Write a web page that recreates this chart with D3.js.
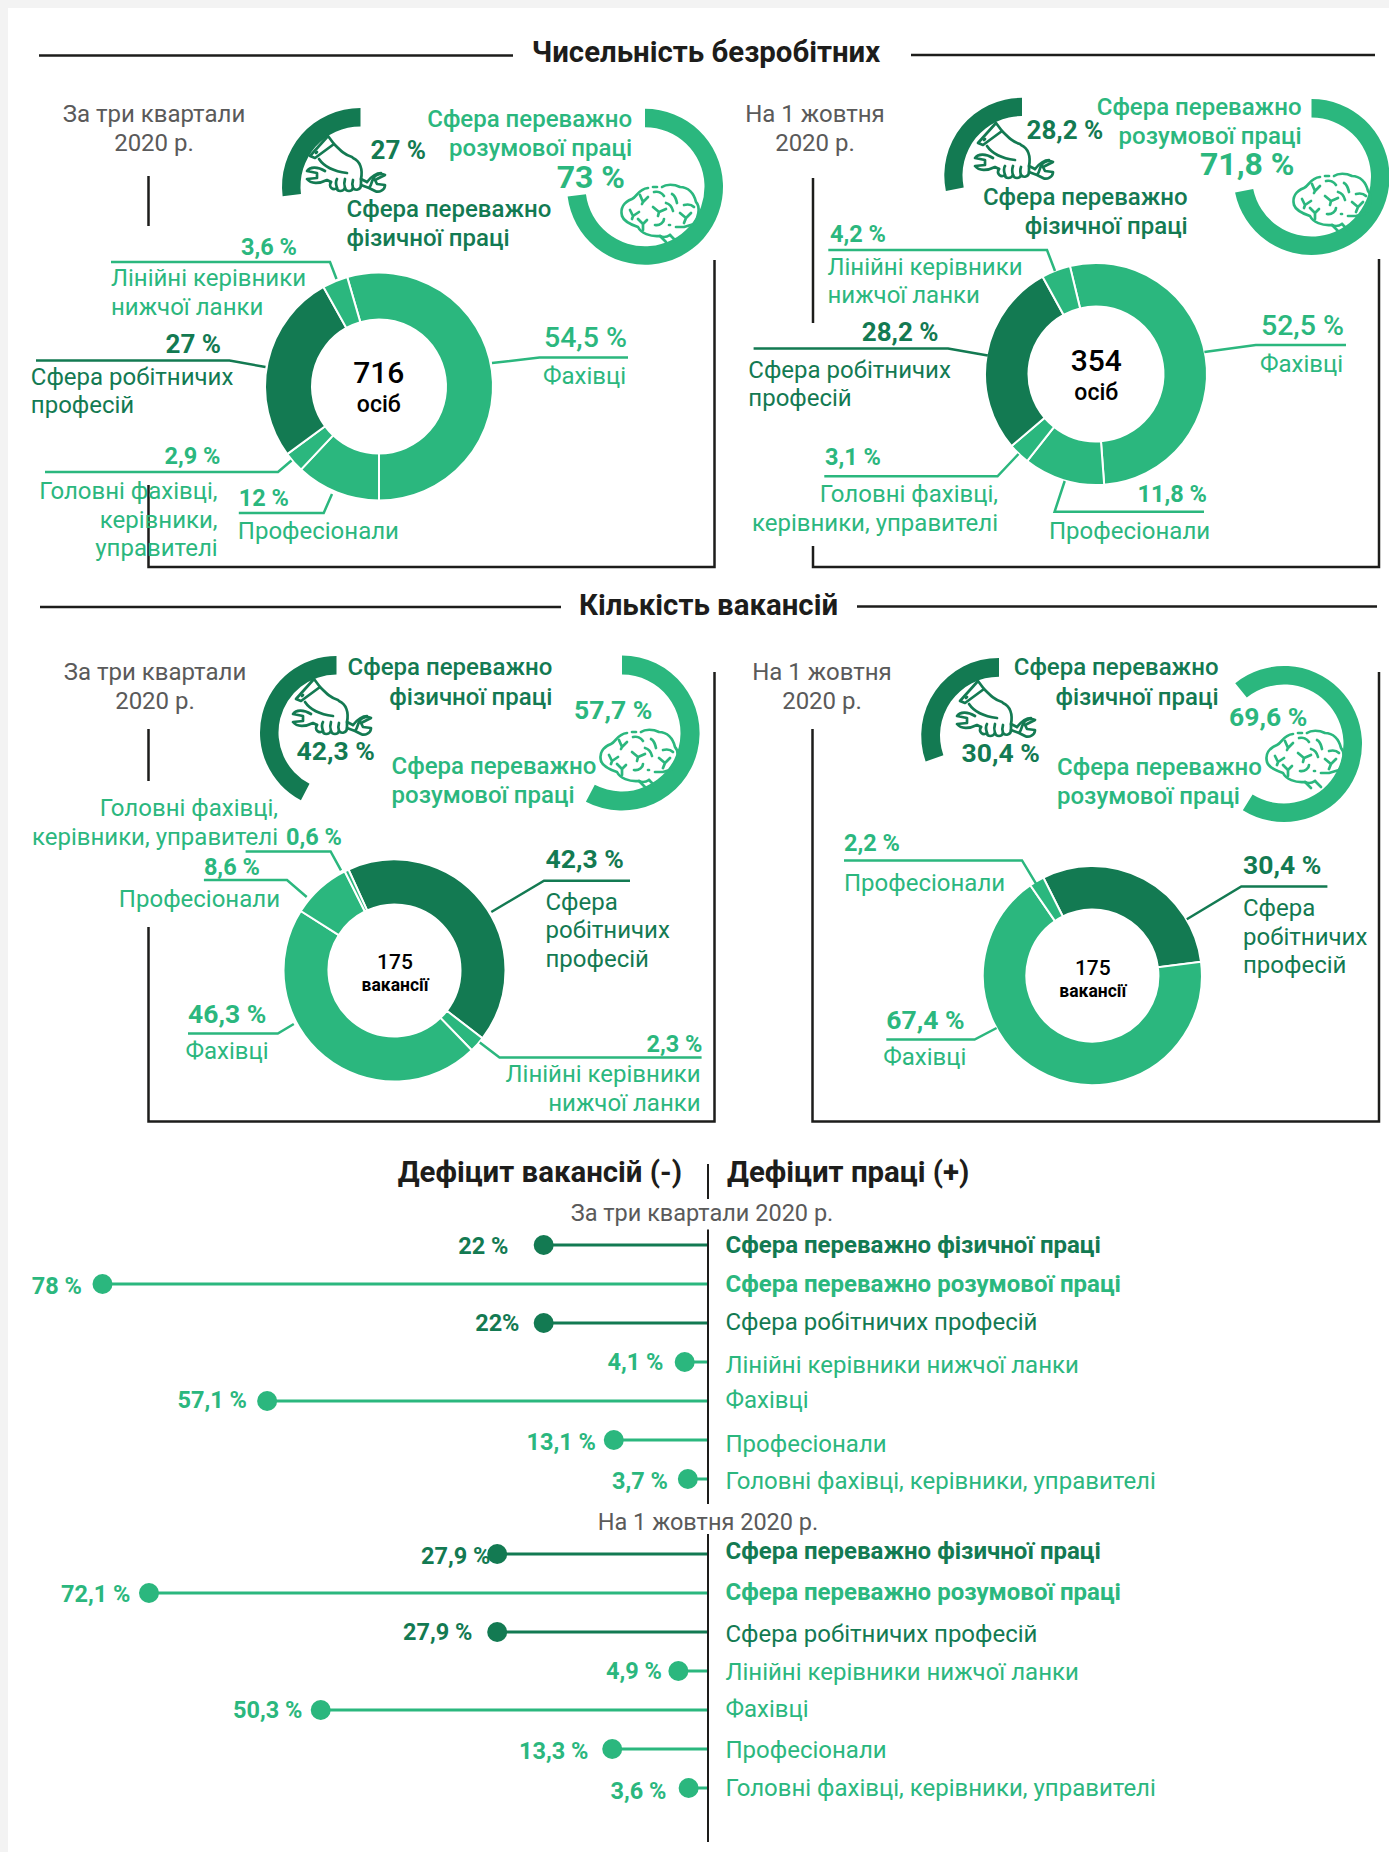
<!DOCTYPE html>
<html>
<head>
<meta charset="utf-8">
<script src="https://cdn.jsdelivr.net/npm/d3@7"></script>
<style>
html, body { margin: 0; padding: 0; background: #f3f3f3; }
svg { display: block; font-family: Roboto, sans-serif; }
</style>
</head>
<body>
<script>
// donut values, share in %
let unemployedQuartersCats = ["Фахівці", "Професіонали", "Головні", "Робітничі", "Лінійні"]
let unemployedQuartersVals = [54.5, 12, 2.9, 27, 3.6]
let unemployedOctCats = ["Фахівці", "Професіонали", "Головні", "Робітничі", "Лінійні"]
let unemployedOctVals = [52.5, 11.8, 3.1, 28.2, 4.2]
let vacanciesQuartersCats = ["Робітничі", "Лінійні", "Фахівці", "Професіонали", "Головні"]
let vacanciesQuartersVals = [42.3, 2.3, 46.3, 8.6, 0.6]
let vacanciesOctCats = ["Робітничі", "Фахівці", "Професіонали"]
let vacanciesOctVals = [30.4, 67.4, 2.2]

// physical / mental work shares
let physicalShares = [27, 28.2, 42.3, 30.4]
let mentalShares = [73, 71.8, 57.7, 69.6]

// deficit rows
let deficitCats = [
    "Сфера переважно фізичної праці",
    "Сфера переважно розумової праці",
    "Сфера робітничих професій",
    "Лінійні керівники нижчої ланки",
    "Фахівці",
    "Професіонали",
    "Головні фахівці, керівники, управителі"
]
let deficitQuartersVals = [22, 78, 22, 4.1, 57.1, 13.1, 3.7]
let deficitQuartersText = ["22 %", "78 %", "22%", "4,1 %", "57,1 %", "13,1 %", "3,7 %"]
let deficitOctVals = [27.9, 72.1, 27.9, 4.9, 50.3, 13.3, 3.6]
let deficitOctText = ["27,9 %", "72,1 %", "27,9 %", "4,9 %", "50,3 %", "13,3 %", "3,6 %"]

let width = 1389
let height = 1852
let light = "#2bb77e"
let dark = "#137a52"
let grey = "#5a5a5a"
let black = "#1d1d1b"

let svg = d3.select("body")
            .append("svg")
            .attr("width", width)
            .attr("height", height)

svg.append("rect")
    .attr("x", 8)
    .attr("y", 8)
    .attr("width", width - 8)
    .attr("height", height - 8)
    .attr("fill", "white")

let txt = (x, y, str, size, weight, color, anchor) => {
    svg.append("text")
        .attr("x", x)
        .attr("y", y)
        .attr("font-size", size)
        .attr("font-weight", weight)
        .attr("fill", color)
        .attr("text-anchor", anchor || "start")
        .text(str)
}

let lineGen = d3.line()

let rule = (points, color, w) => {
    svg.append("path")
        .attr("d", lineGen(points))
        .attr("fill", "none")
        .attr("stroke", color)
        .attr("stroke-width", w)
}

let darkCats = ["Робітничі"]

let drawDonut = (cx, cy, outer, inner, cats, vals, startDeg) => {
    let start = startDeg * Math.PI / 180
    let pie = d3.pie().sort(null).startAngle(start).endAngle(start + 2 * Math.PI)
    let arc = d3.arc().innerRadius(inner).outerRadius(outer)
    svg.append("g")
        .attr("transform", "translate(" + cx + "," + cy + ")")
        .selectAll("path")
        .data(pie(vals))
        .enter()
        .append("path")
        .attr("d", arc)
        .attr("fill", (d, i) => darkCats.includes(cats[i]) ? dark : light)
        .attr("stroke", "white")
        .attr("stroke-width", 2)
}

// share of a full circle as an angle, going either way round
let drawGauge = (cx, cy, outer, inner, share, startDeg, dir, color) => {
    let start = startDeg * Math.PI / 180
    let angle = d3.scaleLinear().domain([0, 100]).range([start, start + dir * 2 * Math.PI])
    let arc = d3.arc().innerRadius(inner).outerRadius(outer)
    svg.append("path")
        .attr("transform", "translate(" + cx + "," + cy + ")")
        .attr("d", arc({startAngle: angle(0), endAngle: angle(share)}))
        .attr("fill", color)
}

let handPaths = [
    "M15,31 L33,11 L39,19 L20,33 Z",
    "M39,19 C46,26 50,30 57,32",
    "M58,33 C65,36 68,44 66,54",
    "M24,34 C28,40 36,46 52,48",
    "M21,28 L22,27",
    "M30,46 C22,41 15,42 12,46 L22,48 L22,53 L12,54 C16,59 24,59 32,55 L36,57",
    "M36,57 C33,62 38,66 42,63 C42,67 48,67 50,63 C51,67 57,67 58,63 C60,66 66,65 66,60 L66,54 L72,57",
    "M42,54 C40,57 41,60 42,63 M50,54 C49,57 49,60 50,63 M58,55 C57,58 57,60 58,63",
    "M66,60 L74,63 C78,59 76,52 82,50 C86,48 90,50 90,50 L80,55 L82,59 L90,60 C90,65 84,68 80,66 L74,63",
    "M72,57 C76,52 80,48 86,48"
]

let brainPaths = [
    "M38,13 C28,14 27,22 22,24 C14,27 10,33 12,41 C14,47 22,50 28,52 C31,58 40,62 50,61 C54,63 57,62 60,60",
    "M43,12 L47,12",
    "M52,12 C56,9 64,9 70,12 C78,12 84,18 86,27 C91,32 88,44 84,49 L74,52 L66,52",
    "M50,61 L56,67 M60,60 L66,66",
    "M20,35 L23,41 L29,37 M23,41 L22,44",
    "M30,20 L33,27 L38,22 M33,27 L32,29",
    "M28,44 L33,49 L37,45 M33,49 L33,55",
    "M44,17 C48,16 52,18 54,21",
    "M43,32 L49,37 L56,34 M49,37 L48,41",
    "M45,50 C50,51 54,47 54,44",
    "M56,28 C60,29 62,32 63,36",
    "M62,19 C66,21 66,25 67,28",
    "M70,38 L76,43 L81,38 M76,43 L74,48",
    "M74,30 C78,29 82,30 84,32",
    "M59,50 L60,50"
]

let drawIcon = (paths, x, y, color) => {
    svg.append("g")
        .attr("transform", "translate(" + x + "," + y + ")")
        .selectAll("path")
        .data(paths)
        .enter()
        .append("path")
        .attr("d", d => d)
        .attr("fill", "none")
        .attr("stroke", color)
        .attr("stroke-width", 2.7)
        .attr("stroke-linecap", "round")
        .attr("stroke-linejoin", "round")
}

// section titles and frames
let titleSize = 29.4
txt(706, 62, "Чисельність безробітних", titleSize, 700, black, "middle")
rule([[39, 55.5], [513, 55.5]], black, 2.5)
rule([[911, 55], [1375, 55]], black, 2.5)
txt(708.5, 615, "Кількість вакансій", titleSize, 700, black, "middle")
rule([[40, 607], [561, 607]], black, 2.5)
rule([[857, 606.5], [1377, 606.5]], black, 2.5)

rule([[148.5, 176], [148.5, 226]], black, 2.5)
rule([[148.5, 485], [148.5, 567], [714.5, 567], [714.5, 260]], black, 2.5)
rule([[813, 178], [813, 323]], black, 2.5)
rule([[813, 546], [813, 567], [1379, 567], [1379, 259]], black, 2.5)
rule([[148.5, 729], [148.5, 781]], black, 2.5)
rule([[148.5, 927], [148.5, 1121.5], [714.5, 1121.5], [714.5, 672]], black, 2.5)
rule([[812.5, 729], [812.5, 1121.5], [1379, 1121.5], [1379, 672]], black, 2.5)

let sizeL = 24
let sizeV = 26
let sizeS = 23.5
let sizeB = 28.5
let sizeH = 24

// ----- unemployed, three quarters
txt(154, 122, "За три квартали", sizeH, 400, grey, "middle")
txt(154, 151, "2020 р.", sizeH, 400, grey, "middle")
drawGauge(360.5, 186.5, 78.5, 60, physicalShares[0], 0, -1, dark)
drawGauge(645, 186.8, 78, 59.5, mentalShares[0], 0, 1, light)
drawIcon(handPaths, 295, 125, dark)
drawIcon(brainPaths, 610, 175, light)
txt(370.5, 159, "27 %", sizeV, 700, dark)
txt(632, 127, "Сфера переважно", sizeL, 500, light, "end")
txt(632, 156, "розумової праці", sizeL, 500, light, "end")
txt(625, 188, "73 %", 32, 700, light, "end")
txt(346.5, 217, "Сфера переважно", sizeL, 500, dark)
txt(346.5, 246, "фізичної праці", sizeL, 500, dark)

drawDonut(379, 386.5, 114, 67, unemployedQuartersCats, unemployedQuartersVals, -16.2)
txt(378.8, 383, "716", 30, 500, "black", "middle")
txt(378.8, 412, "осіб", 23, 500, "black", "middle")
txt(297, 255, "3,6 %", sizeS, 700, light, "end")
rule([[111, 262], [330, 262], [336.5, 279]], light, 2.5)
txt(111, 286, "Лінійні керівники", sizeL, 400, light)
txt(111, 315, "нижчої ланки", sizeL, 400, light)
txt(627, 346.5, "54,5 %", sizeB, 500, light, "end")
rule([[492, 363], [539.5, 357.5], [628, 357.5]], light, 2.5)
txt(626, 384, "Фахівці", sizeL, 400, light, "end")
txt(221, 353, "27 %", sizeV, 700, dark, "end")
rule([[36, 360.5], [229.5, 360.5], [265.5, 367]], dark, 2.5)
txt(30.8, 384.5, "Сфера робітничих", sizeL, 400, dark)
txt(30.8, 413, "професій", sizeL, 400, dark)
txt(220.4, 463.5, "2,9 %", sizeS, 700, light, "end")
rule([[45, 472], [278, 472], [291.5, 460.5]], light, 2.5)
txt(217.6, 498.5, "Головні фахівці,", sizeL, 400, light, "end")
txt(217.6, 527.5, "керівники,", sizeL, 400, light, "end")
txt(217.6, 556, "управителі", sizeL, 400, light, "end")
txt(238.8, 506, "12 %", sizeS, 700, light)
rule([[238.8, 513], [323.7, 513], [332, 494]], light, 2.5)
txt(237.8, 539, "Професіонали", sizeL, 400, light)

// ----- unemployed, 1 October
txt(815, 122, "На 1 жовтня", sizeH, 400, grey, "middle")
txt(815, 151, "2020 р.", sizeH, 400, grey, "middle")
drawGauge(1022, 175.5, 77.7, 59.5, physicalShares[1], 0, -1, dark)
drawGauge(1311.5, 177, 78, 59.5, mentalShares[1], 0, 1, light)
drawIcon(handPaths, 963, 112, dark)
drawIcon(brainPaths, 1282, 164, light)
txt(1026.5, 139, "28,2 %", sizeV, 700, dark)
txt(1301.5, 115, "Сфера переважно", sizeL, 500, light, "end")
txt(1301.5, 144, "розумової праці", sizeL, 500, light, "end")
txt(1294.5, 175, "71,8 %", 32, 700, light, "end")
txt(1187.7, 205, "Сфера переважно", sizeL, 500, dark, "end")
txt(1187.7, 234, "фізичної праці", sizeL, 500, dark, "end")

drawDonut(1096, 374, 111, 67.5, unemployedOctCats, unemployedOctVals, -13.6)
txt(1096.3, 371, "354", 30, 500, "black", "middle")
txt(1096.3, 399.5, "осіб", 23, 500, "black", "middle")
txt(830, 241.5, "4,2 %", sizeS, 700, light)
rule([[828.3, 250], [1047, 250], [1055, 271]], light, 2.5)
txt(827.5, 274.6, "Лінійні керівники", sizeL, 400, light)
txt(827.5, 303, "нижчої ланки", sizeL, 400, light)
txt(1344, 335, "52,5 %", sizeB, 500, light, "end")
rule([[1204.4, 352], [1255.8, 345], [1346, 345]], light, 2.5)
txt(1343, 371.7, "Фахівці", sizeL, 400, light, "end")
txt(938.6, 340.5, "28,2 %", sizeV, 700, dark, "end")
rule([[753.6, 348.4], [948, 348.4], [987.8, 355.5]], dark, 2.5)
txt(748.3, 378, "Сфера робітничих", sizeL, 400, dark)
txt(748.3, 406, "професій", sizeL, 400, dark)
txt(825, 465, "3,1 %", sizeS, 700, light)
rule([[824.3, 476.3], [997.5, 476.3], [1018.5, 454]], light, 2.5)
txt(998, 502, "Головні фахівці,", sizeL, 400, light, "end")
txt(998, 531, "керівники, управителі", sizeL, 400, light, "end")
txt(1207, 502, "11,8 %", sizeS, 700, light, "end")
rule([[1064.7, 481], [1054.6, 511.7], [1204, 511.7]], light, 2.5)
txt(1049, 539, "Професіонали", sizeL, 400, light)

// ----- vacancies, three quarters
txt(155, 680, "За три квартали", sizeH, 400, grey, "middle")
txt(155, 708.6, "2020 р.", sizeH, 400, grey, "middle")
drawGauge(336.5, 732.5, 76.5, 58, physicalShares[2], 0, -1, dark)
drawGauge(622, 733, 77.6, 58.5, mentalShares[2], 0, 1, light)
drawIcon(handPaths, 281, 668, dark)
drawIcon(brainPaths, 589, 720, light)
txt(552.3, 675, "Сфера переважно", sizeL, 500, dark, "end")
txt(552.3, 705, "фізичної праці", sizeL, 500, dark, "end")
txt(574, 718.6, "57,7 %", sizeV + 0.5, 700, light)
txt(296.6, 760.4, "42,3 %", sizeV + 0.5, 700, dark)
txt(391.6, 774, "Сфера переважно", sizeL, 500, light)
txt(391.6, 803, "розумової праці", sizeL, 500, light)

drawDonut(394.5, 970.5, 111, 66, vacanciesQuartersCats, vacanciesQuartersVals, -24.5)
txt(395, 969, "175", 21, 500, "black", "middle")
txt(395, 990.7, "вакансії", 17.5, 700, "black", "middle")
txt(278, 816.4, "Головні фахівці,", sizeL, 400, light, "end")
txt(278, 845, "керівники, управителі", sizeL, 400, light, "end")
txt(286, 845, "0,6 %", sizeS, 700, light)
rule([[245.6, 851.4], [330.6, 851.4], [341, 870.4]], light, 2.5)
txt(203.9, 874.6, "8,6 %", sizeS, 700, light)
rule([[203.9, 880], [287, 880], [306.7, 897]], light, 2.5)
txt(280, 906.8, "Професіонали", sizeL, 400, light, "end")
txt(545.5, 867.5, "42,3 %", sizeV + 0.5, 700, dark)
rule([[491.3, 912], [544, 880.7], [630, 880.7]], dark, 2.5)
txt(545.5, 910, "Сфера", sizeL, 400, dark)
txt(545.5, 938, "робітничих", sizeL, 400, dark)
txt(545.5, 966.8, "професій", sizeL, 400, dark)
txt(188, 1023, "46,3 %", sizeV + 0.5, 700, light)
rule([[188, 1033.6], [277.8, 1033.6], [293.8, 1024]], light, 2.5)
txt(185.5, 1058.6, "Фахівці", sizeL, 400, light)
txt(702.5, 1052.4, "2,3 %", sizeS, 700, light, "end")
rule([[479.8, 1042.5], [499.5, 1057.5], [701.6, 1057.5]], light, 2.5)
txt(700.6, 1081.8, "Лінійні керівники", sizeL, 400, light, "end")
txt(700.6, 1111, "нижчої ланки", sizeL, 400, light, "end")

// ----- vacancies, 1 October
txt(822, 680, "На 1 жовтня", sizeH, 400, grey, "middle")
txt(822, 708.6, "2020 р.", sizeH, 400, grey, "middle")
drawGauge(999, 735.7, 77.8, 59, physicalShares[3], 0, -1, dark)
drawGauge(1284, 744, 78, 59.5, mentalShares[3], -38.7, 1, light)
drawIcon(handPaths, 945, 670, dark)
drawIcon(brainPaths, 1255, 721, light)
txt(1218.5, 675, "Сфера переважно", sizeL, 500, dark, "end")
txt(1218.5, 705, "фізичної праці", sizeL, 500, dark, "end")
txt(1229, 726.4, "69,6 %", sizeV + 0.5, 700, light)
txt(961.5, 762, "30,4 %", sizeV + 0.5, 700, dark)
txt(1057, 775, "Сфера переважно", sizeL, 500, light)
txt(1057, 804, "розумової праці", sizeL, 500, light)

drawDonut(1092.4, 975.5, 109.5, 66, vacanciesOctCats, vacanciesOctVals, -26.6)
txt(1092.8, 975.4, "175", 21, 500, "black", "middle")
txt(1092.8, 996.8, "вакансії", 17.5, 700, "black", "middle")
txt(844, 850.7, "2,2 %", sizeS, 700, light)
rule([[844, 860.4], [1022, 860.4], [1036, 883.6]], light, 2.5)
txt(844, 891.4, "Професіонали", sizeL, 400, light)
txt(1243, 873.6, "30,4 %", sizeV + 0.5, 700, dark)
rule([[1186.8, 919.3], [1241.3, 886.4], [1327.4, 886.4]], dark, 2.5)
txt(1243, 916.4, "Сфера", sizeL, 400, dark)
txt(1243, 945.4, "робітничих", sizeL, 400, dark)
txt(1243, 972.9, "професій", sizeL, 400, dark)
txt(886.3, 1029, "67,4 %", sizeV + 0.5, 700, light)
rule([[886.3, 1039.6], [974.6, 1039.6], [996.6, 1028]], light, 2.5)
txt(883.2, 1064.6, "Фахівці", sizeL, 400, light)

// ----- deficit lollipops
let xScale = d3.scaleLinear().domain([0, 78]).range([717, 102.5])
let axisX = 708

let rowStyle = [
    {color: dark, weight: 700},
    {color: light, weight: 700},
    {color: dark, weight: 400},
    {color: light, weight: 400},
    {color: light, weight: 400},
    {color: light, weight: 400},
    {color: light, weight: 400}
]

let drawDeficit = (vals, texts, yRange, catY, valY, valEnd) => {
    let yScale = d3.scalePoint().domain(deficitCats).range(yRange)
    let rows = deficitCats.map((c, i) => ({cat: c, val: vals[i], txt: texts[i], i: i}))

    // value labels go under the dots, one of them is overlapped in the original
    rows.forEach(r => {
        txt(valEnd[r.i], valY[r.i], r.txt, 23.5, 700, rowStyle[r.i].color, "end")
        txt(725.5, catY[r.i], r.cat, 24, rowStyle[r.i].weight, rowStyle[r.i].color)
    })

    let g = svg.append("g")
    g.selectAll("line")
        .data(rows)
        .enter()
        .append("line")
        .attr("x1", axisX)
        .attr("x2", d => xScale(d.val))
        .attr("y1", d => yScale(d.cat))
        .attr("y2", d => yScale(d.cat))
        .attr("stroke", d => rowStyle[d.i].color)
        .attr("stroke-width", 3)
    g.selectAll("circle")
        .data(rows)
        .enter()
        .append("circle")
        .attr("cx", d => xScale(d.val))
        .attr("cy", d => yScale(d.cat))
        .attr("r", 10)
        .attr("fill", d => rowStyle[d.i].color)
}

txt(682, 1182, "Дефіцит вакансій (-)", 29.4, 700, black, "end")
txt(727, 1182, "Дефіцит праці (+)", 29.4, 700, black)
txt(702, 1221, "За три квартали 2020 р.", 23.5, 400, grey, "middle")
txt(708, 1530, "На 1 жовтня 2020 р.", 23.5, 400, grey, "middle")

drawDeficit(deficitQuartersVals, deficitQuartersText, [1245, 1479],
    [1252.6, 1292, 1330, 1373, 1408, 1452, 1489],
    [1253.5, 1293.5, 1330.7, 1370, 1408, 1450, 1488.8],
    [508.4, 82, 519.5, 663.5, 247, 596, 668])
drawDeficit(deficitOctVals, deficitOctText, [1554, 1788],
    [1558.7, 1600, 1641.8, 1680, 1716.7, 1757.5, 1796],
    [1563.7, 1602, 1640.4, 1679, 1717.7, 1758.5, 1798.5],
    [490.5, 130.5, 472.5, 662, 302.5, 588.5, 666.5])

rule([[axisX, 1164], [axisX, 1199]], black, 2)
rule([[axisX, 1229.5], [axisX, 1504]], black, 2)
rule([[axisX, 1534], [axisX, 1842]], black, 2)
</script>
</body>
</html>
